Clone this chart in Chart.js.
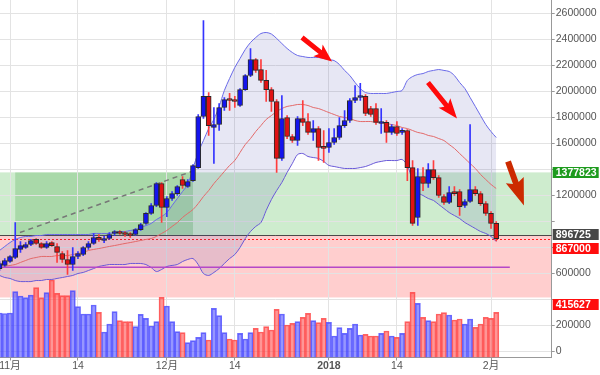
<!DOCTYPE html>
<html><head><meta charset="utf-8">
<script src="https://cdn.jsdelivr.net/npm/chart.js@4.4.1/dist/chart.umd.min.js"></script>
<style>html,body{margin:0;padding:0;background:#fff;}canvas{display:block;}</style>
</head><body>
<canvas id="c" width="600" height="375"></canvas>
<script>
// BTC/JPY daily, day index 0 = 2017-11-01, first candle = 2017-10-30
const firstDay = -2;
const K = 1000; // values below are in thousands of JPY
const open = [638,662,692,723,785,800,823,862,831,800,
838,808,754,708,669,731,746,800,831,877,
854,869,908,915,908,908,900,938,985,1062,
1123,1292,1108,1177,1215,1323,1269,1315,1415,1808,
1962,1723,1746,1877,1938,1938,1892,2015,2123,2246,
2169,2085,2015,1923,1485,1800,1654,1623,1792,1769,
1685,1715,1577,1569,1608,1646,1738,1777,1931,1954,
1962,1869,1869,1754,1762,1685,1731,1685,1700,1415,
1031,1346,1292,1400,1338,1192,1146,1231,1231,1123,
1154,1246,1215,1138,1062,985];
const high = [692,715,738,992,846,838,862,869,838,846,
846,831,769,777,800,769,808,846,908,900,
885,915,931,931,923,915,946,985,1069,1138,
1300,1300,1192,1231,1277,1346,1323,1438,1823,2546,
1992,1877,1908,1954,1985,1962,2023,2131,2331,2254,
2246,2162,2031,1938,1969,1815,1669,1808,1931,1831,
1777,1731,1700,1715,1715,1800,1854,1946,2046,2062,
1977,1885,1908,1869,1777,1746,1769,1715,1708,1469,
1408,1415,1446,1469,1354,1208,1269,1269,1246,1169,
1746,1269,1231,1154,1077,1000];
const low = [623,654,685,715,762,792,815,823,792,792,
808,685,685,592,623,715,738,785,823,846,
838,862,892,900,885,877,892,931,977,1054,
1115,992,1038,1162,1200,1254,1262,1308,1408,1792,
1662,1446,1700,1854,1854,1877,1885,2008,2115,2146,
2069,1923,1846,1377,1469,1638,1608,1585,1738,1669,
1623,1469,1454,1531,1592,1631,1723,1762,1915,1931,
1815,1808,1746,1677,1608,1669,1662,1669,1315,969,
969,1238,1262,1323,1185,1131,1138,1200,1046,1108,
1146,1200,1123,1046,946,850];
const close = [677,700,731,792,815,823,854,831,800,831,
815,762,708,669,731,754,800,831,877,862,
869,900,915,908,900,892,938,977,1062,1123,
1292,1108,1177,1215,1269,1277,1308,1431,1808,1962,
1738,1746,1877,1938,1931,1923,2015,2123,2246,2162,
2085,2015,1923,1485,1792,1654,1623,1792,1762,1685,
1715,1569,1562,1608,1646,1738,1777,1931,1954,1969,
1831,1823,1762,1762,1685,1731,1677,1700,1415,985,
1346,1292,1400,1338,1200,1146,1223,1215,1115,1154,
1246,1215,1138,1062,985,867];
const volume = [44.5,44,44.5,65.8,61.5,59.8,62.5,69.8,59.8,64.8,
77.5,64.2,61.8,61.8,66.8,50.8,43.5,43.5,52.5,45.2,
25.5,33.5,45.8,36.8,35.8,35.8,30.8,43.2,39.2,31.5,
35.8,60.2,51.5,35.8,25.8,24.8,14.8,16.8,20.2,24.8,
17.5,49.2,41.8,24.8,18.5,17.5,24.2,18.5,24.8,29.2,
25.5,30.8,27.5,48.2,43.5,32.5,34.2,35.8,40.2,44.2,
36.8,34.8,39.2,35.2,21.5,29.8,24.2,29.2,33.5,22.5,
23.2,21.5,21.5,24.2,26.5,21.5,20.2,24.2,35.8,65.2,
54.2,40.2,36.8,35.8,43.5,44.8,42.5,37.5,38.5,33.5,
38.5,30.2,33.5,40.2,39.2,45.2];
const bbUpper = [777,808,838,862,877,885,885,892,892,900,
900,900,900,900,900,900,900,900,908,908,
908,908,915,923,923,931,938,954,969,985,
1015,1038,1069,1123,1177,1231,1285,1408,1531,1623,
1715,1785,1885,2008,2100,2185,2254,2323,2377,2415,
2446,2454,2442,2408,2369,2331,2300,2277,2269,2262,
2262,2262,2254,2246,2238,2208,2162,2123,2069,2023,
1992,1985,1985,1985,1985,1992,2000,2008,2085,2115,
2131,2138,2154,2162,2169,2162,2154,2123,2069,2023,
1954,1885,1815,1746,1692,1646];
const bbMid = [638,654,662,669,685,700,715,723,731,731,
731,738,738,738,746,754,762,777,785,792,
800,808,815,823,831,838,846,854,862,869,
885,908,931,962,992,1031,1062,1092,1138,1192,
1238,1292,1338,1385,1431,1469,1531,1592,1638,1692,
1738,1785,1815,1846,1869,1885,1892,1900,1900,1892,
1877,1869,1854,1838,1823,1808,1800,1792,1777,1769,
1769,1769,1762,1762,1754,1746,1738,1723,1715,1700,
1685,1677,1662,1654,1638,1623,1592,1562,1523,1485,
1446,1408,1362,1323,1285,1254];
const bbLower = [585,569,562,546,538,538,538,546,546,554,
554,562,569,577,585,600,608,623,638,654,
662,669,669,669,669,677,677,677,669,646,
615,631,654,662,669,692,708,715,669,600,
585,608,638,677,715,746,800,869,923,962,
992,1085,1169,1238,1300,1377,1446,1515,1523,1500,
1492,1485,1462,1431,1423,1415,1408,1408,1408,1415,
1423,1438,1454,1462,1469,1469,1469,1477,1431,1315,
1223,1200,1177,1162,1131,1100,1069,1046,1023,992,
969,946,923,908,885,846];
const tickDays = [0,13,30,43,61,74,92];
const tickLabels = ['11月','14','12月','14','2018','14','2月'];
const priceTicks = [0,200000,400000,600000,800000,1000000,1200000,1400000,1600000,1800000,2000000,2200000,2400000,2600000];
const zoneTop = 1377823, zoneMid = 896725, currentPrice = 867000, zoneBottom = 415627;
const supportLevel = 648; // thousands
const supportDays = [-2, 95.6];
const trendLine = [[1.9, 915], [34.8, 1385]];
const boxDays = [1, 35];
const arrowMarks = [[[55.85,2415],[61.6,2231]], [[79.95,2069],[85.5,1792]], [[95.26,1462],[98.3,1123]]];
const priceTags = [
  {value: zoneTop, color: '#1d9b1d'},
  {value: zoneMid, color: '#474747'},
  {value: currentPrice, color: '#ff0d0d'},
  {value: zoneBottom, color: '#ff0d0d'}
];

const days = open.map((_, i) => firstDay + i);
const isUp = i => close[i] >= open[i];

Chart.defaults.font.family = "'Liberation Sans', 'Noto Sans CJK JP', sans-serif";

function tagCenters(y) {
  const h = 11, gap = 3, nudges = [0, 0, 0, 7];
  let prevBottom = -Infinity;
  return priceTags.map((t, i) => {
    const cy = Math.max(y.getPixelForValue(t.value), prevBottom + gap + h / 2) + nudges[i];
    prevBottom = cy + h / 2;
    return cy;
  });
}

const bandsPlugin = {
  id: 'bands',
  beforeDraw(chart) {
    const {ctx, chartArea: a, scales: {x, y}} = chart;
    ctx.save();
    ctx.beginPath(); ctx.rect(a.left, a.top, a.right - a.left, a.bottom - a.top); ctx.clip();
    const yT = y.getPixelForValue(zoneTop), yM = y.getPixelForValue(zoneMid), yB = y.getPixelForValue(zoneBottom);
    ctx.fillStyle = 'rgba(60,180,60,0.25)';
    ctx.fillRect(a.left, yT, a.right - a.left, yM - yT);
    const x0 = x.getPixelForValue(boxDays[0]), x1 = x.getPixelForValue(boxDays[1]);
    ctx.fillStyle = 'rgba(40,150,40,0.22)';
    ctx.fillRect(x0, yT, x1 - x0, yM - yT);
    ctx.fillStyle = 'rgba(255,60,60,0.25)';
    ctx.fillRect(a.left, yM, a.right - a.left, yB - yM);
    ctx.restore();
  },
  beforeDatasetsDraw(chart) {
    const {ctx, chartArea: a, scales: {y}} = chart;
    ctx.save();
    const yM = Math.round(y.getPixelForValue(zoneMid)) + 0.5;
    ctx.strokeStyle = '#4a4a4a'; ctx.lineWidth = 1;
    ctx.beginPath(); ctx.moveTo(a.left, yM); ctx.lineTo(a.right, yM); ctx.stroke();
    const yC = Math.round(y.getPixelForValue(currentPrice)) + 0.5;
    ctx.strokeStyle = '#ff2020'; ctx.setLineDash([2, 2]);
    ctx.beginPath(); ctx.moveTo(a.left, yC); ctx.lineTo(a.right, yC); ctx.stroke();
    ctx.restore();
  },
  afterDatasetsDraw(chart) {
    const {ctx, scales: {x, y}} = chart;
    const styles = [
      {shaft: 5, head: 15, headW: 15, color: '#ff0a0a'},
      {shaft: 5, head: 17, headW: 15, color: '#ff0a0a'},
      {shaft: 6, head: 24, headW: 19, color: '#cc2a00'}
    ];
    arrowMarks.forEach((m, i) => {
      const s = styles[i];
      const x1 = x.getPixelForValue(m[0][0]), y1 = y.getPixelForValue(m[0][1] * K);
      const x2 = x.getPixelForValue(m[1][0]), y2 = y.getPixelForValue(m[1][1] * K);
      const dx = x2 - x1, dy = y2 - y1, L = Math.hypot(dx, dy), ux = dx / L, uy = dy / L, nx = -uy, ny = ux;
      const bx = x2 - ux * s.head, by = y2 - uy * s.head;
      ctx.save();
      ctx.beginPath();
      ctx.moveTo(x1 + nx * s.shaft / 2, y1 + ny * s.shaft / 2);
      ctx.lineTo(bx + nx * s.shaft / 2, by + ny * s.shaft / 2);
      ctx.lineTo(bx + nx * s.headW / 2 - ux * 3, by + ny * s.headW / 2 - uy * 3);
      ctx.lineTo(x2, y2);
      ctx.lineTo(bx - nx * s.headW / 2 - ux * 3, by - ny * s.headW / 2 - uy * 3);
      ctx.lineTo(bx - nx * s.shaft / 2, by - ny * s.shaft / 2);
      ctx.lineTo(x1 - nx * s.shaft / 2, y1 - ny * s.shaft / 2);
      ctx.closePath();
      ctx.fillStyle = s.color; ctx.fill();
      ctx.restore();
    });
  },
  afterDraw(chart) {
    const {ctx, chartArea: a, scales: {y}} = chart;
    const h = 11, w = 46;
    const centers = tagCenters(y);
    ctx.save();
    ctx.font = "bold 10.5px 'Liberation Sans', sans-serif";
    ctx.textBaseline = 'middle'; ctx.textAlign = 'left';
    priceTags.forEach((t, i) => {
      const top = Math.round(centers[i] - h / 2);
      const x0 = a.right + 1;
      ctx.fillStyle = t.color;
      ctx.fillRect(x0, top, w, h);
      ctx.fillStyle = '#fff';
      ctx.fillText(String(t.value), x0 + 3, top + h / 2 + 0.5);
    });
    ctx.restore();
  }
};

const blueWick = '#3434ff', redWick = '#ff3d3d';
const blueBody = '#1414ee', redBody = '#e01212';

new Chart(document.getElementById('c'), {
  type: 'bar',
  data: {
    datasets: [
      {
        type: 'bar', label: 'volume', yAxisID: 'yv', order: 10, grouped: false,
        data: days.map((d, i) => ({x: d, y: volume[i]})),
        barThickness: 5.23, borderWidth: 1,
        backgroundColor: days.map((d, i) => isUp(i) ? 'rgba(80,80,255,0.6)' : 'rgba(255,80,80,0.6)'),
        borderColor: days.map((d, i) => isUp(i) ? 'rgba(70,70,255,0.8)' : 'rgba(255,60,60,0.8)')
      },
      {
        type: 'line', label: 'upper', yAxisID: 'y', order: 8,
        data: days.map((d, i) => ({x: d, y: bbUpper[i] * K})),
        borderColor: '#6a6ae8', borderWidth: 1, pointRadius: 0, tension: 0.3, fill: false
      },
      {
        type: 'line', label: 'lower', yAxisID: 'y', order: 8,
        data: days.map((d, i) => ({x: d, y: bbLower[i] * K})),
        borderColor: '#6a5ad8', borderWidth: 1, pointRadius: 0, tension: 0.3,
        fill: '-1', backgroundColor: 'rgba(70,70,170,0.13)'
      },
      {
        type: 'line', label: 'mid', yAxisID: 'y', order: 7,
        data: days.map((d, i) => ({x: d, y: bbMid[i] * K})),
        borderColor: '#e36a6a', borderWidth: 1, pointRadius: 0, tension: 0.3, fill: false
      },
      {
        type: 'line', label: 'support', yAxisID: 'y', order: 6,
        data: supportDays.map(d => ({x: d, y: supportLevel * K})),
        borderColor: '#b548c8', borderWidth: 1.6, pointRadius: 0, fill: false
      },
      {
        type: 'line', label: 'trend', yAxisID: 'y', order: 6,
        data: trendLine.map(p => ({x: p[0], y: p[1] * K})),
        borderColor: '#777', borderWidth: 1.5, borderDash: [5, 4], pointRadius: 0, fill: false
      },
      {
        type: 'bar', label: 'wick', yAxisID: 'y', order: 2, grouped: false,
        data: days.map((d, i) => ({x: d, y: [low[i] * K, high[i] * K]})),
        barThickness: 1, borderWidth: 0,
        backgroundColor: days.map((d, i) => isUp(i) ? blueWick : redWick)
      },
      {
        type: 'bar', label: 'body', yAxisID: 'y', order: 1, grouped: false,
        data: days.map((d, i) => ({x: d, y: [open[i] * K, close[i] * K]})),
        barThickness: 5, borderWidth: 1, borderSkipped: false, minBarLength: 2,
        borderColor: '#2a2a2a',
        backgroundColor: days.map((d, i) => isUp(i) ? blueBody : redBody)
      }
    ]
  },
  options: {
    responsive: false, animation: false, devicePixelRatio: 1, events: [],
    layout: {padding: 0},
    plugins: {legend: {display: false}, tooltip: {enabled: false}},
    scales: {
      x: {
        type: 'linear', min: -1.913, max: 103.61, offset: false,
        afterBuildTicks: s => { s.ticks = tickDays.map(v => ({value: v})); },
        afterFit: s => { s.height = 17.5; s.paddingLeft = 0; s.paddingRight = 0; },
        ticks: {
          autoSkip: false, maxRotation: 0, padding: 0, color: '#555',
          font: c => ({size: 10.5, lineHeight: 1, weight: (c.tick && c.tick.value === 61) ? 'bold' : 'normal'}),
          callback: (v, i) => tickLabels[i]
        },
        grid: {color: '#e3e3e3', tickLength: 3, tickColor: '#999', offset: false},
        border: {color: '#999'}
      },
      y: {
        type: 'linear', position: 'right', min: -46154, max: 2703846,
        afterBuildTicks: s => { s.ticks = priceTicks.map(v => ({value: v})); },
        afterFit: s => { s.width = 48.3; s.paddingTop = 0; s.paddingBottom = 0; },
        ticks: {
          autoSkip: false, padding: 1, color: '#555', font: {size: 10.5},
          callback: function (v) {
            const py = this.getPixelForValue(v);
            const centers = tagCenters(this);
            return centers.some(c => Math.abs(c - py) < 15) ? '' : String(v);
          }
        },
        grid: {color: '#e3e3e3', tickLength: 3, tickColor: '#999'},
        border: {color: '#999'}
      },
      yv: {type: 'linear', display: false, min: 0, max: 357.5}
    }
  },
  plugins: [bandsPlugin]
});
</script>
</body></html>
